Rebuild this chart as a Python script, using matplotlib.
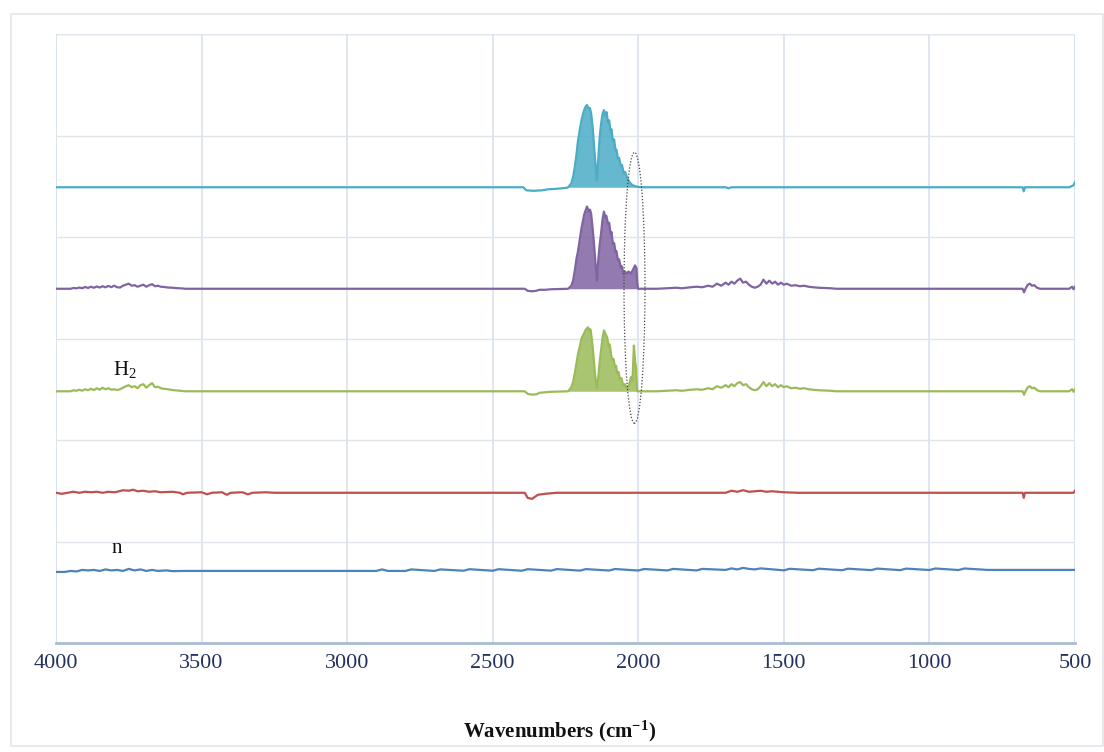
import matplotlib
matplotlib.use("Agg")
import matplotlib.pyplot as plt
from matplotlib.patches import Ellipse, Rectangle
import numpy as np

plt.rcParams['font.family'] = ['Liberation Serif', 'DejaVu Serif']
plt.rcParams['mathtext.fontset'] = 'custom'
plt.rcParams['mathtext.rm'] = 'Liberation Serif'
plt.rcParams['mathtext.it'] = 'Liberation Serif'
plt.rcParams['mathtext.bf'] = 'Liberation Serif:bold'

# ---------------- data (wavenumber in cm-1, relative absorbance) ----------------
x_ticks = [4000, 3500, 3000, 2500, 2000, 1500, 1000, 500]
offsets = {'blue': 0.70, 'red': 1.48, 'green': 2.48, 'purple': 3.49, 'cyan': 4.49}

cyan_wn = [4000, 2395, 2385, 2360, 2330, 2310, 2280, 2245,
           2241, 2230, 2224, 2218, 2212, 2207, 2200, 2195, 2190, 2186, 2180, 2176, 2170,
           2166, 2162, 2157, 2153, 2149, 2145, 2142, 2137, 2133, 2128, 2123, 2118, 2112,
           2109, 2104, 2100, 2095, 2092, 2087, 2083, 2078, 2075, 2070, 2066, 2060, 2056,
           2050, 2045, 2038, 2030, 2020, 2004, 1990,
           1700, 1690, 1680, 680, 676, 672, 520, 505, 500]
cyan_val = [0, 0, -0.03, -0.035, -0.03, -0.02, -0.015, -0.005,
            0, 0.04, 0.10, 0.20, 0.33, 0.46, 0.58, 0.66, 0.72, 0.76, 0.80, 0.81, 0.77,
            0.78, 0.73, 0.60, 0.45, 0.30, 0.15, 0.07, 0.30, 0.48, 0.62, 0.72, 0.76, 0.70,
            0.74, 0.64, 0.66, 0.55, 0.57, 0.45, 0.47, 0.36, 0.37, 0.28, 0.29, 0.21, 0.22,
            0.14, 0.15, 0.09, 0.05, 0.02, 0.005, 0,
            0, -0.01, 0, 0, -0.04, 0, 0, 0.02, 0.05]

purple_wn = [4000, 3950, 3940, 3930, 3920, 3910, 3900, 3890, 3880, 3870, 3860, 3850, 3840,
             3830, 3820, 3810, 3800, 3790, 3780, 3770, 3760, 3750, 3740, 3730, 3720, 3710,
             3700, 3690, 3680, 3670, 3660, 3650, 3640, 3630, 3615, 3600, 3585, 3570, 3555,
             2390, 2380, 2365, 2350, 2340, 2320, 2300, 2250,
             2241, 2230, 2224, 2218, 2212, 2207, 2200, 2195, 2190, 2185, 2180, 2176, 2170,
             2166, 2162, 2157, 2152, 2147, 2142, 2137, 2132, 2128, 2123, 2118, 2113, 2110,
             2104, 2100, 2095, 2092, 2087, 2083, 2078, 2075, 2070, 2066, 2060, 2056, 2052,
             2046, 2039, 2033, 2025, 2018, 2011, 2006, 2004, 2001,
             1935, 1900, 1870, 1850, 1820, 1800, 1780, 1760, 1745, 1730, 1715, 1700, 1690,
             1680, 1670, 1660, 1650, 1640, 1630, 1620, 1610, 1600, 1590, 1580, 1570, 1560,
             1550, 1540, 1530, 1520, 1510, 1500, 1490, 1475, 1460, 1445, 1430, 1415, 1400,
             1380, 1360, 1340, 1320,
             680, 675, 670, 662, 655, 648, 640, 630, 620, 520, 510, 505, 500]
purple_val = [0, 0, 0.008, 0.004, 0.012, 0.005, 0.018, 0.008, 0.02, 0.01, 0.022, 0.012, 0.025,
              0.014, 0.028, 0.016, 0.03, 0.015, 0.012, 0.03, 0.04, 0.05, 0.03, 0.035, 0.02, 0.03,
              0.04, 0.02, 0.035, 0.045, 0.025, 0.03, 0.02, 0.018, 0.012, 0.01, 0.006, 0.004, 0,
              0, -0.02, -0.025, -0.02, -0.01, -0.01, -0.005, 0,
              0, 0.03, 0.08, 0.18, 0.30, 0.37, 0.50, 0.60, 0.67, 0.74, 0.78, 0.81, 0.76,
              0.78, 0.74, 0.60, 0.44, 0.25, 0.08, 0.30, 0.45, 0.54, 0.68, 0.76, 0.70, 0.72,
              0.64, 0.65, 0.54, 0.56, 0.44, 0.45, 0.36, 0.37, 0.28, 0.29, 0.21, 0.22, 0.15,
              0.17, 0.15, 0.17, 0.15, 0.19, 0.23, 0.20, 0.08, 0,
              0, 0.005, 0.01, 0.005, 0.015, 0.02, 0.015, 0.03, 0.02, 0.05, 0.03, 0.06, 0.04,
              0.07, 0.05, 0.08, 0.10, 0.06, 0.07, 0.04, 0.02, 0.01, 0.02, 0.04, 0.09, 0.05,
              0.08, 0.05, 0.07, 0.04, 0.06, 0.04, 0.05, 0.03, 0.035, 0.025, 0.03, 0.02, 0.015,
              0.01, 0.008, 0.005, 0,
              0, -0.035, 0, 0.04, 0.05, 0.03, 0.035, 0.01, 0, 0, 0.02, -0.005, 0.02]

green_wn = [4000, 3950, 3940, 3930, 3920, 3910, 3900, 3890, 3880, 3870, 3860, 3850, 3840,
            3830, 3820, 3810, 3800, 3790, 3780, 3770, 3760, 3750, 3740, 3730, 3720, 3710,
            3700, 3690, 3680, 3670, 3660, 3650, 3640, 3630, 3615, 3600, 3585, 3570, 3555,
            2390, 2380, 2365, 2350, 2340, 2320, 2300, 2250,
            2241, 2230, 2224, 2218, 2212, 2207, 2200, 2195, 2190, 2186, 2180, 2173, 2168,
            2164, 2159, 2154, 2149, 2145, 2142, 2137, 2133, 2128, 2123, 2118, 2112, 2107,
            2102, 2098, 2094, 2090, 2085, 2080, 2076, 2073, 2068, 2063, 2058, 2052, 2046,
            2039, 2032, 2025, 2020, 2015, 2011, 2008, 2004,
            1935, 1900, 1870, 1850, 1820, 1800, 1780, 1760, 1745, 1730, 1715, 1700, 1690,
            1680, 1670, 1660, 1650, 1640, 1630, 1620, 1610, 1600, 1590, 1580, 1570, 1560,
            1550, 1540, 1530, 1520, 1510, 1500, 1490, 1475, 1460, 1445, 1430, 1415, 1400,
            1380, 1360, 1340, 1320,
            680, 675, 670, 662, 655, 648, 640, 630, 620, 520, 510, 505, 500]
green_val = [0, 0, 0.01, 0.005, 0.015, 0.006, 0.02, 0.01, 0.025, 0.012, 0.03, 0.015, 0.035,
             0.02, 0.03, 0.015, 0.02, 0.012, 0.02, 0.035, 0.05, 0.06, 0.04, 0.05, 0.03, 0.06,
             0.07, 0.035, 0.06, 0.08, 0.04, 0.045, 0.03, 0.025, 0.02, 0.012, 0.008, 0.005, 0,
             0, -0.025, -0.033, -0.03, -0.015, -0.01, -0.005, 0,
             0, 0.04, 0.09, 0.18, 0.28, 0.37, 0.45, 0.52, 0.55, 0.57, 0.61, 0.63, 0.60,
             0.61, 0.50, 0.35, 0.18, 0.08, 0.03, 0.15, 0.28, 0.40, 0.52, 0.60, 0.56, 0.53,
             0.45, 0.46, 0.37, 0.31, 0.32, 0.24, 0.25, 0.18, 0.19, 0.12, 0.13, 0.06, 0.07,
             0.03, 0.06, 0.14, 0.10, 0.45, 0.30, 0.24, 0,
             0, 0.005, 0.01, 0.005, 0.015, 0.02, 0.015, 0.03, 0.02, 0.05, 0.035, 0.06, 0.04,
             0.07, 0.05, 0.08, 0.09, 0.06, 0.07, 0.04, 0.02, 0.01, 0.02, 0.05, 0.09, 0.05,
             0.08, 0.05, 0.07, 0.04, 0.06, 0.04, 0.05, 0.03, 0.035, 0.025, 0.03, 0.02, 0.015,
             0.01, 0.008, 0.005, 0,
             0, -0.035, 0, 0.04, 0.05, 0.03, 0.035, 0.01, 0, 0, 0.02, -0.005, 0.02]

red_wn = [4000, 3980, 3960, 3940, 3920, 3900, 3880, 3860, 3840, 3820, 3800, 3790, 3770,
          3750, 3735, 3720, 3700, 3680, 3660, 3640, 3600, 3575, 3564, 3550, 3500, 3481,
          3465, 3430, 3413, 3400, 3360, 3341, 3325, 3280, 3250, 3200,
          2390, 2380, 2365, 2355, 2345, 2320, 2280,
          1700, 1680, 1660, 1640, 1620, 1600, 1580, 1560, 1540, 1500, 1450,
          680, 676, 672, 505, 500]
red_val = [0, -0.01, 0, 0.01, 0, 0.01, 0.005, 0.01, 0, 0.01, 0.005, 0.01, 0.025,
           0.02, 0.03, 0.015, 0.02, 0.01, 0.015, 0.005, 0.01, 0.0, -0.015, 0.0, 0.005, -0.015,
           0.0, 0.005, -0.02, 0.0, 0.005, -0.015, 0.0, 0.005, 0.0, 0,
           0, -0.05, -0.06, -0.04, -0.02, -0.01, 0,
           0, 0.02, 0.01, 0.025, 0.01, 0.015, 0.02, 0.01, 0.015, 0.005, 0,
           0, -0.05, 0, 0, 0.02]

blue_wn = [4000, 3970, 3950, 3930, 3910, 3890, 3870, 3850, 3830, 3810, 3790, 3770, 3750,
           3730, 3710, 3690, 3670, 3650, 3620, 3600, 3560, 3500,
           2900, 2880, 2860, 2800, 2780, 2700, 2680, 2600, 2580, 2500, 2480, 2400, 2380,
           2300, 2280, 2200, 2180, 2100, 2080, 2000, 1980, 1900, 1880, 1800, 1780,
           1700, 1680, 1660, 1640, 1620, 1600, 1580, 1500, 1480, 1400, 1380, 1300, 1280,
           1200, 1180, 1100, 1080, 1000, 980, 900, 880, 800, 500]
blue_val = [0, 0, 0.01, 0.005, 0.02, 0.015, 0.02, 0.01, 0.025, 0.015, 0.02, 0.01, 0.03,
            0.015, 0.025, 0.01, 0.02, 0.01, 0.015, 0.008, 0.01, 0.01,
            0.01, 0.025, 0.01, 0.01, 0.025, 0.01, 0.025, 0.012, 0.027, 0.012, 0.027, 0.012, 0.027,
            0.013, 0.028, 0.013, 0.028, 0.014, 0.029, 0.014, 0.029, 0.015, 0.03, 0.015, 0.03,
            0.02, 0.035, 0.025, 0.04, 0.03, 0.025, 0.035, 0.016, 0.031, 0.017, 0.032, 0.017, 0.032,
            0.018, 0.033, 0.018, 0.033, 0.019, 0.034, 0.019, 0.034, 0.02, 0.02]

series = [
    ('cyan', cyan_wn, cyan_val, '#4bacc6'),
    ('purple', purple_wn, purple_val, '#8064a2'),
    ('green', green_wn, green_val, '#9bbb59'),
    ('red', red_wn, red_val, '#c0504d'),
    ('blue', blue_wn, blue_val, '#4f81bd'),
]
band_series = ['cyan', 'purple', 'green']
band_range = (2245, 1999)
labels = [('H$_2$', 3805, 2.64), ('n', 3808, 0.89)]

# ---------------- figure ----------------
fig = plt.figure(figsize=(11.04, 7.52), dpi=100)
fig.patch.set_facecolor('white')
fig.patches.append(Rectangle((11 / 1104, 6 / 752), 1092 / 1104, 732 / 752,
                             transform=fig.transFigure, fill=False,
                             ec='#e6eaef', lw=1.5, zorder=0))
ax = fig.add_axes([56 / 1104, 109 / 752, 1019 / 1104, 609 / 752])

for name, wn, val, col in series:
    wn = np.asarray(wn, float)
    val = np.asarray(val, float)
    off = offsets[name]
    y = off + val
    if name in band_series:
        band = (wn <= band_range[0]) & (wn >= band_range[1])
        ax.fill_between(wn, off, y, where=band, color=col, alpha=0.85, lw=0, zorder=3)
    ax.plot(wn, y, color=col, lw=1.6, zorder=4, solid_joinstyle='round')

for txt, xw, yv in labels:
    ax.text(xw, yv, txt, fontsize=15, color='#111111', ha='left', va='baseline', zorder=5)

ax.add_patch(Ellipse((2013, 3.50), width=72, height=2.67, fill=False,
                     ec='#444444', lw=0.9, ls=(0, (1, 1.5)), zorder=6))

ax.set_xlim(4000, 500)
ax.set_ylim(0, 6)
ax.set_xticks(x_ticks)
ax.set_xticklabels([str(t) for t in x_ticks])
ax.set_yticks([1, 2, 3, 4, 5, 6])
ax.tick_params(axis='x', length=0, pad=8, labelsize=16, labelcolor='#25315e')
ax.tick_params(axis='y', length=0, labelleft=False)
ax.grid(True, axis='y', color='#e0e5eb', lw=1.0, zorder=0)
ax.grid(True, axis='x', color='#d9e2ee', lw=1.2, zorder=0)
for s in ['left', 'right', 'top']:
    ax.spines[s].set_visible(False)
ax.spines['bottom'].set_color('#a9bcd4')
ax.spines['bottom'].set_linewidth(2.0)
ax.axvline(4000, color='#d9e2ee', lw=1.2, zorder=0)
ax.axvline(500, color='#d9e2ee', lw=1.2, zorder=0)
ax.axhline(6, color='#e0e5eb', lw=1.0, zorder=0)

ax.set_xlabel('Wavenumbers (cm$^{\\mathbf{-1}}$)', fontsize=15, fontweight='bold', color='#111111')
ax.xaxis.set_label_coords((560 - 56) / 1019, (643 - 731) / 609)
ax.xaxis.label.set_va('center')

fig.savefig('out.png', dpi=100, facecolor='white')
